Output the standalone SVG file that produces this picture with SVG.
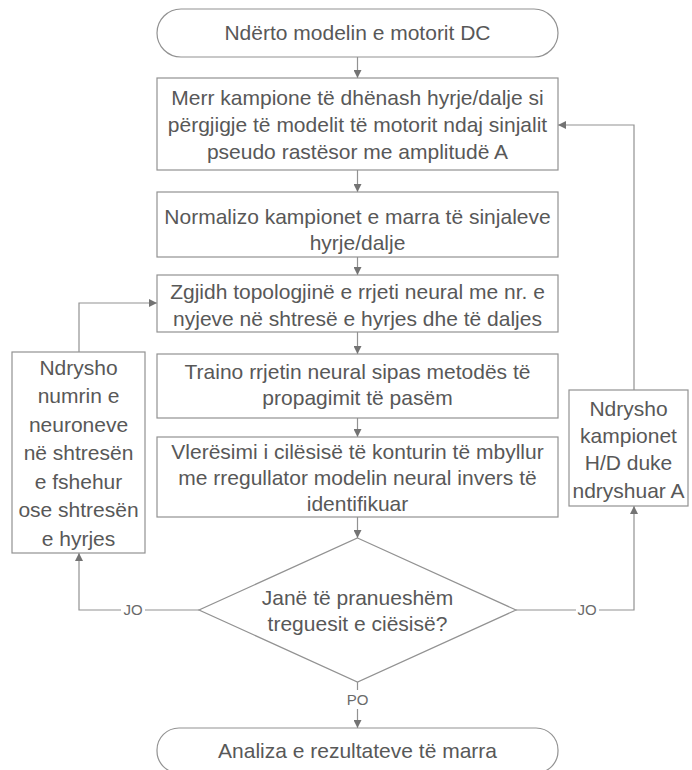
<svg xmlns="http://www.w3.org/2000/svg" width="692" height="770" viewBox="0 0 692 770">
<style>
.shape{fill:#ffffff;stroke:#929292;stroke-width:1.2}
.line{fill:none;stroke:#929292;stroke-width:1.2}
.t{font-family:"Liberation Sans",Arial,sans-serif;font-size:21px;fill:#585858;text-anchor:middle}
.lbl{font-family:"Liberation Sans",Arial,sans-serif;font-size:15px;fill:#6a6a6a;text-anchor:middle}
</style>
<defs>
<marker id="arr" viewBox="0 0 10 10" refX="10" refY="5" markerWidth="9" markerHeight="8" markerUnits="userSpaceOnUse" orient="auto">
<path d="M0,0 L10,5 L0,10 Z" fill="#737373"/>
</marker>
</defs>
<rect width="692" height="770" fill="#ffffff"/>
<g id="connectors">
<line class="line" x1="357.5" y1="57" x2="357.5" y2="78" marker-end="url(#arr)"/>
<line class="line" x1="357.5" y1="170" x2="357.5" y2="192" marker-end="url(#arr)"/>
<line class="line" x1="357.5" y1="257" x2="357.5" y2="275" marker-end="url(#arr)"/>
<line class="line" x1="357.5" y1="332" x2="357.5" y2="354" marker-end="url(#arr)"/>
<line class="line" x1="357.5" y1="418" x2="357.5" y2="437" marker-end="url(#arr)"/>
<line class="line" x1="357.5" y1="517" x2="357.5" y2="538" marker-end="url(#arr)"/>
<line class="line" x1="357.5" y1="682" x2="357.5" y2="690"/>
<line class="line" x1="357.5" y1="709" x2="357.5" y2="728" marker-end="url(#arr)"/>
<text class="lbl" x="357.5" y="705">PO</text>
<polyline class="line" points="199,610 145,610"/>
<polyline class="line" points="121,610 79,610 79,553" marker-end="url(#arr)"/>
<text class="lbl" x="133" y="615">JO</text>
<polyline class="line" points="79,352 79,303 157,303" marker-end="url(#arr)"/>
<polyline class="line" points="516,610 576,610"/>
<polyline class="line" points="599,610 634,610 634,506" marker-end="url(#arr)"/>
<text class="lbl" x="587" y="615">JO</text>
<polyline class="line" points="634,390 634,125 558,125" marker-end="url(#arr)"/>
</g>
<g id="start">
<rect class="shape" x="157" y="9" width="401" height="48" rx="24" ry="24"/>
<text class="t" x="357.5" y="40">Ndërto modelin e motorit DC</text>
</g>
<g id="sample">
<rect class="shape" x="157" y="78" width="401" height="92"/>
<text class="t" x="357.5" y="104.5">Merr kampione të dhënash hyrje/dalje si</text>
<text class="t" x="357.5" y="131.5">përgjigje të modelit të motorit ndaj sinjalit</text>
<text class="t" x="357.5" y="158.5">pseudo rastësor me amplitudë A</text>
</g>
<g id="normalize">
<rect class="shape" x="157" y="192" width="401" height="65"/>
<text class="t" x="357.5" y="223.5">Normalizo kampionet e marra të sinjaleve</text>
<text class="t" x="357.5" y="249.5">hyrje/dalje</text>
</g>
<g id="topology">
<rect class="shape" x="157" y="275" width="401" height="57"/>
<text class="t" x="357.5" y="298.5">Zgjidh topologjinë e rrjeti neural me nr. e</text>
<text class="t" x="357.5" y="325.5">nyjeve në shtresë e hyrjes dhe të daljes</text>
</g>
<g id="train">
<rect class="shape" x="157" y="354" width="401" height="64"/>
<text class="t" x="357.5" y="378.5">Traino rrjetin neural sipas metodës të</text>
<text class="t" x="357.5" y="404.5">propagimit të pasëm</text>
</g>
<g id="evaluate">
<rect class="shape" x="157" y="437" width="401" height="80"/>
<text class="t" x="357.5" y="458.5">Vlerësimi i cilësisë të konturin të mbyllur</text>
<text class="t" x="357.5" y="484.5">me rregullator modelin neural invers të</text>
<text class="t" x="357.5" y="510.5">identifikuar</text>
</g>
<g id="decision">
<polygon class="shape" points="357.5,538 516,610 357.5,682 199,610"/>
<text class="t" x="357.5" y="604.5">Janë të pranueshëm</text>
<text class="t" x="357.5" y="630.5">treguesit e ciësisë?</text>
</g>
<g id="change-neurons">
<rect class="shape" x="12" y="352" width="133" height="201"/>
<text class="t" x="78.5" y="374.5">Ndrysho</text>
<text class="t" x="78.5" y="403">numrin e</text>
<text class="t" x="78.5" y="431.5">neuroneve</text>
<text class="t" x="78.5" y="460">në shtresën</text>
<text class="t" x="78.5" y="488.5">e fshehur</text>
<text class="t" x="78.5" y="517">ose shtresën</text>
<text class="t" x="78.5" y="545.5">e hyrjes</text>
</g>
<g id="change-samples">
<rect class="shape" x="569" y="390" width="119" height="116"/>
<text class="t" x="628.5" y="415.5">Ndrysho</text>
<text class="t" x="628.5" y="442.5">kampionet</text>
<text class="t" x="628.5" y="469.5">H/D duke</text>
<text class="t" x="628.5" y="497.5">ndryshuar A</text>
</g>
<g id="end">
<rect class="shape" x="157" y="728" width="401" height="45" rx="22" ry="22"/>
<text class="t" x="357.5" y="757.5">Analiza e rezultateve të marra</text>
</g>
</svg>
